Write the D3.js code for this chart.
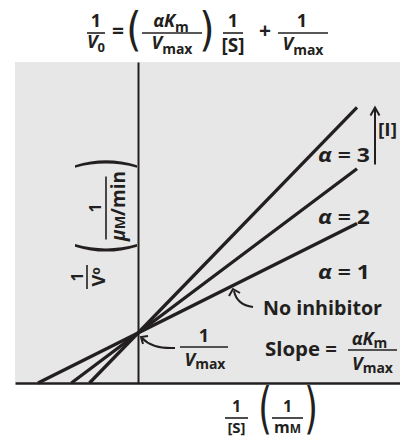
<!DOCTYPE html>
<html>
<head>
<meta charset="utf-8">
<script src="https://cdn.jsdelivr.net/npm/d3@7/dist/d3.min.js"></script>
<style>
  html, body { margin: 0; padding: 0; background: #fff; }
  svg { display: block; }
  text { font-family: "Open Sans", "Noto Sans", sans-serif; fill: #231f20; }
</style>
</head>
<body>
<div id="chart"></div>
<script>
// Lineweaver–Burk plot, competitive inhibition.
// x: 1/[S] (1/mM), y: 1/V0 (1/(µM/min)); all lines share the 1/Vmax intercept.
const alphas = [1, 2, 3];
const slopes = [0.50, 0.75, 1.03];      // plotted slope of each line
const yIntercept = 0.5;                  // 1/Vmax
const xEnd = 2.19;                       // right end of every line
const xDomain = [-1.23, 2.62];
const yDomain = [0, 3.21];

const W = 400, H = 442;
const ink = "#231f20";

const svg = d3.select("#chart").append("svg")
  .attr("width", W).attr("height", H);

const x = d3.scaleLinear().domain(xDomain).range([15, 400]);
const y = d3.scaleLinear().domain(yDomain).range([383, 62]);

// plot panel
svg.append("rect")
  .attr("x", x(xDomain[0])).attr("y", y(yDomain[1]))
  .attr("width", x(xDomain[1]) - x(xDomain[0]))
  .attr("height", y(yDomain[0]) - y(yDomain[1]))
  .attr("fill", "#e7e7e7");

// axes: bare lines, no ticks
const xAxis = d3.axisBottom(x).tickValues([]).tickSizeOuter(0);
const yAxis = d3.axisLeft(y).tickValues([]).tickSizeOuter(0);
svg.append("g").attr("transform", `translate(0,${y(0)})`).call(xAxis)
  .select(".domain").attr("stroke", ink).attr("stroke-width", 2.4);
svg.append("g").attr("transform", `translate(${x(0)},0)`).call(yAxis)
  .select(".domain").attr("stroke", ink).attr("stroke-width", 2);

// the three lines, from the x intercept (-1/(αKm)) to xEnd
const lineGen = d3.line().x(d => x(d[0])).y(d => y(d[1]));
const lines = slopes.map(s => [[-yIntercept / s, 0], [xEnd, yIntercept + s * xEnd]]);
svg.append("g").selectAll("path").data(lines).join("path")
  .attr("d", lineGen)
  .attr("fill", "none").attr("stroke", ink)
  .attr("stroke-width", 3.3).attr("stroke-linecap", "butt");

// parts = [[string, flags]]; flags: i italic, s subscript, u raised small, k small caps
function addParts(parent, parts, o) {
  let shift = 0;
  parts.forEach(([s, f = ""]) => {
    const ts = parent.append("tspan").text(s);
    let target = 0;
    if (f.includes("i")) ts.style("font-style", "italic");
    if (f.includes("s")) { ts.attr("font-size", o.subSize || o.size * 0.8); target = o.sub != null ? o.sub : o.size * 0.25; }
    if (f.includes("u")) { ts.attr("font-size", o.subSize || o.size * 0.75); target = o.up || -4; }
    if (f.includes("k")) ts.attr("font-size", o.size * 0.75);
    if (target !== shift) { ts.attr("dy", target - shift); shift = target; }
  });
}
function rich(sel, px, py, parts, o) {
  const t = sel.append("text").attr("x", px).attr("y", py)
    .attr("text-anchor", o.anchor || "middle")
    .style("font-weight", 700)
    .attr("font-size", o.size);
  addParts(t, parts, o);
  if (o.len) t.attr("textLength", o.len).attr("lengthAdjust", "spacingAndGlyphs");
  return t;
}
// a stacked fraction: numerator, bar, denominator (one text element)
function frac(sel, cx, numY, barY, denY, halfW, num, den, o) {
  const t = sel.append("text").attr("text-anchor", "middle")
    .style("font-weight", 700).attr("font-size", o.size);
  const n = t.append("tspan").attr("x", cx + (o.numDx || 0)).attr("y", numY);
  if (o.numSize) n.attr("font-size", o.numSize);
  addParts(n, num, o);
  const d = t.append("tspan").attr("x", cx + (o.denDx || 0)).attr("y", denY);
  if (o.denSize) d.attr("font-size", o.denSize);
  addParts(d, den, Object.assign({}, o, { size: o.denSize || o.size }));
  sel.append("line").attr("x1", cx - halfW).attr("x2", cx + halfW)
    .attr("y1", barY).attr("y2", barY)
    .attr("stroke", ink).attr("stroke-width", o.barW || 1.6);
  return t;
}
// tall delimiters, stretched to the wanted height
function paren(sel, px, py, ch, size, sx = 1, sy = 1) {
  sel.append("text").attr("transform", `translate(${px},${py}) scale(${sx},${sy})`)
    .attr("text-anchor", "middle").attr("font-size", size)
    .style("font-family", "'DejaVu Sans', sans-serif")
    .style("font-weight", 400).text(ch);
}

// ---- equation at the top ----
const eq = svg.append("g");
frac(eq, 96, 27, 33, 48, 9, [["1"]], [["V", "i"], ["0", "s"]], { size: 18, subSize: 13, sub: 4 });
rich(eq, 118, 38, [["="]], { size: 21 });
paren(eq, 134, 45, "(", 46, 0.85);
frac(eq, 172, 27, 33, 49, 30, [["α", "i"], ["K", "i"], ["m", "s"]], [["V", "i"], ["max", "s"]],
  { size: 18, subSize: 14, sub: 5, numDx: -1 });
paren(eq, 207, 45, ")", 46, 0.85);
frac(eq, 233, 27, 33, 52, 10, [["1"]], [["[S]"]], { size: 18, denSize: 19 });
rich(eq, 265, 38, [["+"]], { size: 21 });
frac(eq, 303, 27, 33, 50, 25, [["1"]], [["V", "i"], ["max", "s"]], { size: 18, subSize: 14, sub: 5, numDx: -1 });

// ---- y-axis title (rotated) ----
const yl = svg.append("g").attr("transform", "translate(106,210) rotate(-90)");
frac(yl, -67, -23, -19, -1, 12, [["1"]], [["V"], ["o", "u"]],
  { size: 18, numSize: 16, subSize: 12, up: -5 });
paren(yl, -38, 22, "(", 56, 0.6, 1.25);
frac(yl, 2, -5, 0, 19, 31.5, [["1"]], [["μ", "i"], ["M", "k"], ["/min"]],
  { size: 19, numSize: 16, denDx: 2 });
paren(yl, 46, 22, ")", 56, 0.6, 1.25);

// ---- line labels ----
const lab = svg.append("g");
alphas.forEach((a, i) => {
  const ye = y(yIntercept + slopes[i] * xEnd);
  rich(lab, 318, ye + 55, [["α", "i"], [" = " + a]], { size: 19, anchor: "start", len: 52 });
});

// [I] arrow
const top3 = y(yIntercept + slopes[2] * xEnd);
lab.append("line").attr("x1", 375).attr("x2", 375).attr("y1", top3 + 57).attr("y2", top3 + 1)
  .attr("stroke", ink).attr("stroke-width", 2);
lab.append("path").attr("d", `M370.5,${top3 + 8} L375,${top3} L379.5,${top3 + 8}`)
  .attr("fill", "none").attr("stroke", ink).attr("stroke-width", 2);
rich(lab, 378, top3 + 29, [["[I]"]], { size: 17, anchor: "start", len: 19 });

// "No inhibitor" with curved arrow
rich(lab, 263, 315, [["No inhibitor"]], { size: 19, anchor: "start", len: 119 });
lab.append("path").attr("d", "M253,307 Q237,305 234,291")
  .attr("fill", "none").attr("stroke", ink).attr("stroke-width", 2);
lab.append("path").attr("d", "M229,296 L233,289 L240,293")
  .attr("fill", "none").attr("stroke", ink).attr("stroke-width", 2);

// Slope = αKm / Vmax
rich(lab, 265, 356, [["Slope ="]], { size: 19, anchor: "start", len: 72 });
frac(lab, 372.5, 345, 350, 370, 24.5, [["α", "i"], ["K", "i"], ["m", "s"]], [["V", "i"], ["max", "s"]],
  { size: 18, subSize: 14, sub: 3, numDx: -3 });

// 1/Vmax at the common intercept
frac(lab, 204, 342, 347, 366, 24, [["1"]], [["V", "i"], ["max", "s"]],
  { size: 18, subSize: 14, sub: 3, denDx: 1 });
lab.append("path").attr("d", `M175,348 Q152,349 ${x(0) + 4},${y(yIntercept) + 5}`)
  .attr("fill", "none").attr("stroke", ink).attr("stroke-width", 2);
lab.append("path").attr("d", "M143,344 L141,337 L148,336")
  .attr("fill", "none").attr("stroke", ink).attr("stroke-width", 2);

// ---- x-axis title ----
const xl = svg.append("g");
frac(xl, 236.5, 412, 418, 433, 11.5, [["1"]], [["[S]"]], { size: 15, numSize: 16 });
paren(xl, 265, 427, "(", 50, 0.7, 1.1);
frac(xl, 287.5, 412, 418, 433, 15.5, [["1"]], [["m"], ["M", "k"]], { size: 16 });
paren(xl, 311, 427, ")", 50, 0.7, 1.1);
</script>
</body>
</html>
